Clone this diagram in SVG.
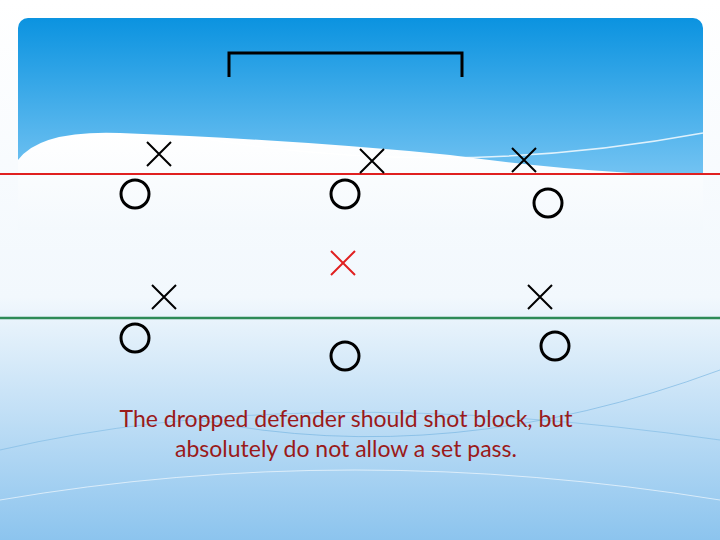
<svg xmlns="http://www.w3.org/2000/svg" width="720" height="540" viewBox="0 0 720 540">
<defs>
<linearGradient id="bg" x1="0" y1="0" x2="0" y2="1">
<stop offset="0" stop-color="#ffffff"/><stop offset="0.55" stop-color="#f2f8fd"/><stop offset="1" stop-color="#8cc4ee"/>
</linearGradient>
<linearGradient id="hd" x1="0" y1="0" x2="0" y2="1">
<stop offset="0" stop-color="#0b93e0"/><stop offset="1" stop-color="#8fd0f7"/>
</linearGradient>
<linearGradient id="wv" x1="0" y1="0" x2="0" y2="1">
<stop offset="0" stop-color="#ffffff"/><stop offset="1" stop-color="#f4f9fd"/>
</linearGradient>
</defs>
<style>
.c{fill:none;stroke:#000;stroke-width:3}
.x{stroke:#000;stroke-width:2}
.xr{stroke:#e02020;stroke-width:2}
.t{font-family:Lato,"Liberation Sans",sans-serif;font-size:23px;fill:#9a1a1a;text-anchor:middle}
</style>
<rect width="720" height="540" fill="url(#bg)"/>
<rect x="18" y="18" width="685" height="200" rx="10" fill="url(#hd)"/>
<path d="M18 160 Q40 130 120 133 Q300 140 450 155 Q600 175 703 175 L703 230 L18 230 Z" fill="url(#wv)"/>
<path d="M200 138 Q450 180 703 133" fill="none" stroke="#fff" stroke-width="1.5" opacity="0.8"/>
<path d="M200 420 Q450 470 720 370" fill="none" stroke="#6fb1e0" stroke-width="1" opacity="0.6"/>
<path d="M0 450 Q300 380 720 440" fill="none" stroke="#6fb1e0" stroke-width="1" opacity="0.5"/>
<path d="M0 500 Q350 440 720 500" fill="none" stroke="#ffffff" stroke-width="1" opacity="0.6"/>
<path class="c" d="M229 77 V53 H462 V77"/>
<line x1="0" y1="174" x2="720" y2="174" stroke="#e02020" stroke-width="2"/>
<line x1="0" y1="318" x2="720" y2="318" stroke="#2e8b57" stroke-width="2.5"/>
<g id="offense">
<circle class="c" cx="135" cy="194" r="14"/><circle class="c" cx="345" cy="194" r="14"/><circle class="c" cx="548" cy="203" r="14"/>
<circle class="c" cx="135" cy="338" r="14"/><circle class="c" cx="345" cy="356" r="14"/><circle class="c" cx="555" cy="346" r="14"/>
</g>
<g id="defense">
<path class="x" d="M147 142 L171 166 M171 142 L147 166"/>
<path class="x" d="M360 149 L384 173 M384 149 L360 173"/>
<path class="x" d="M512 148 L536 172 M536 148 L512 172"/>
<path class="x" d="M152 285 L176 309 M176 285 L152 309"/>
<path class="x" d="M528 285 L552 309 M552 285 L528 309"/>
<path class="xr" d="M331 251 L355 275 M355 251 L331 275"/>
</g>
<text class="t" x="346" y="427">The dropped defender should shot block, but</text>
<text class="t" x="346" y="457">absolutely do not allow a set pass.</text>
</svg>
